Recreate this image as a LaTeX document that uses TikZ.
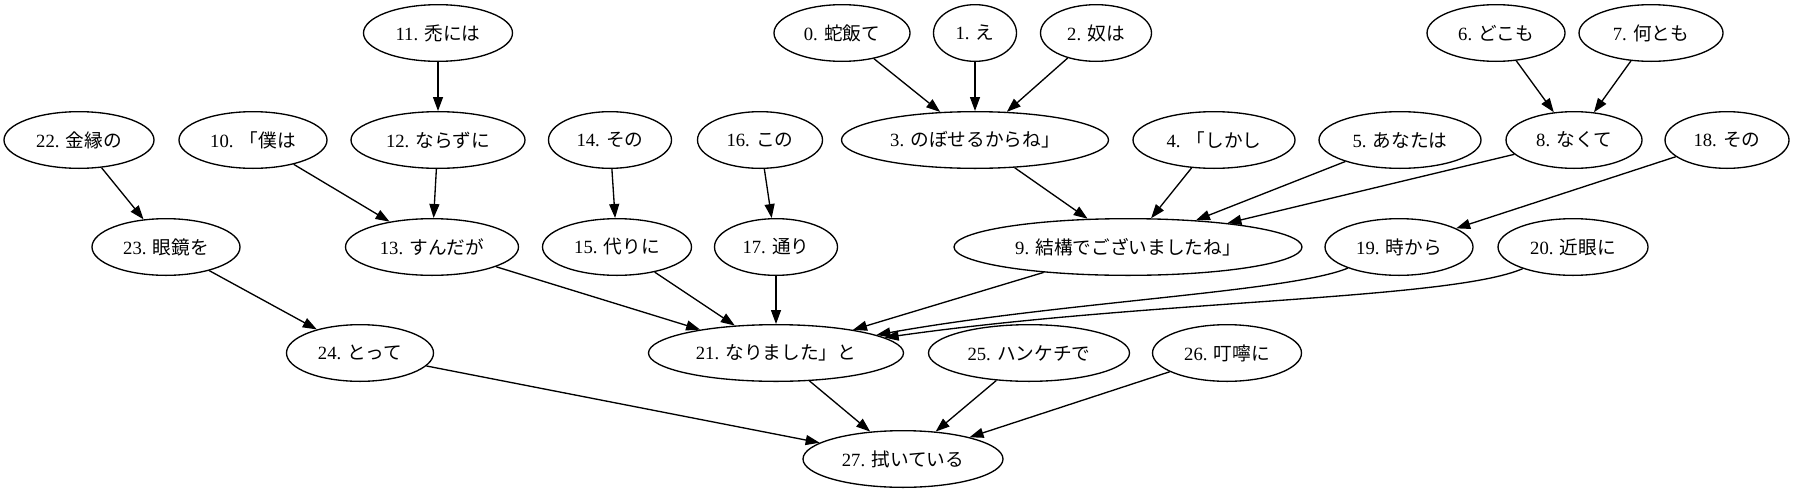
\documentclass[tikz,border=0pt]{standalone}
\usepackage{fontspec}
\setmainfont{Liberation Serif}
\newfontfamily\cjk{Noto Sans CJK JP}
\usetikzlibrary{arrows.meta,shapes.geometric}
\tikzset{
  nd/.style={ellipse, draw, line width=1pt, inner sep=0pt, minimum height=42.5pt,
    font=\fontsize{14pt}{16pt}\selectfont},
  nw/.style={minimum width=#1*0.75pt},
  ed/.style={line width=1pt, -{Triangle[length=10.5pt,width=7.5pt]}}
}
\begin{document}
\begin{tikzpicture}[x=0.75pt,y=-0.75pt]
\useasboundingbox (0,0) rectangle (1794,493);
% row 1
\node[nd,nw=149] (n11) at (438,33) {11. {\cjk 禿には}};
\node[nd,nw=136] (n0) at (842,33) {0. {\cjk 蛇飯て}};
\node[nd,nw=83] (n1) at (975,33) {1. {\cjk え}};
\node[nd,nw=111] (n2) at (1096,33) {2. {\cjk 奴は}};
\node[nd,nw=138] (n6) at (1496,33) {6. {\cjk どこも}};
\node[nd,nw=144] (n7) at (1651,33) {7. {\cjk 何とも}};
% row 2
\node[nd,nw=150] (n22) at (79,140) {22. {\cjk 金縁の}};
\node[nd,nw=148] (n10) at (253,140) {10. {\cjk 「僕は}};
\node[nd,nw=174] (n12) at (438,140) {12. {\cjk ならずに}};
\node[nd,nw=123] (n14) at (610,140) {14. {\cjk その}};
\node[nd,nw=125] (n16) at (760,140) {16. {\cjk この}};
\node[nd,nw=267] (n3) at (975,140) {3. {\cjk のぼせるからね」}};
\node[nd,nw=162] (n4) at (1214,140) {4. {\cjk 「しかし}};
\node[nd,nw=162] (n5) at (1400,140) {5. {\cjk あなたは}};
\node[nd,nw=136] (n8) at (1574,140) {8. {\cjk なくて}};
\node[nd,nw=124] (n18) at (1727,140) {18. {\cjk その}};
% row 3
\node[nd,nw=148] (n23) at (166,247) {23. {\cjk 眼鏡を}};
\node[nd,nw=173] (n13) at (432,247) {13. {\cjk すんだが}};
\node[nd,nw=149] (n15) at (617,247) {15. {\cjk 代りに}};
\node[nd,nw=123] (n17) at (776,247) {17. {\cjk 通り}};
\node[nd,nw=348] (n9) at (1128,247) {9. {\cjk 結構でございましたね」}};
\node[nd,nw=148] (n19) at (1399,247) {19. {\cjk 時から}};
\node[nd,nw=150] (n20) at (1573,247) {20. {\cjk 近眼に}};
% row 4
\node[nd,nw=147] (n24) at (360,353) {24. {\cjk とって}};
\node[nd,nw=255] (n21) at (776,353) {21. {\cjk なりました」と}};
\node[nd,nw=201] (n25) at (1029,353) {25. {\cjk ハンケチで}};
\node[nd,nw=149] (n26) at (1227,353) {26. {\cjk 叮嚀に}};
% row 5
\node[nd,nw=200] (n27) at (903,459) {27. {\cjk 拭いている}};
% edges
\draw[ed] (n0) -- (n3);
\draw[ed] (n1) -- (n3);
\draw[ed] (n2) -- (n3);
\draw[ed] (n3) -- (n9);
\draw[ed] (n4) -- (n9);
\draw[ed] (n5) -- (n9);
\draw[ed] (n8) -- (n9);
\draw[ed] (n6) -- (n8);
\draw[ed] (n7) -- (n8);
\draw[ed] (n11) -- (n12);
\draw[ed] (n12) -- (n13);
\draw[ed] (n10) -- (n13);
\draw[ed] (n22) -- (n23);
\draw[ed] (n23) -- (n24);
\draw[ed] (n14) -- (n15);
\draw[ed] (n16) -- (n17);
\draw[ed] (n13) -- (n21);
\draw[ed] (n15) -- (n21);
\draw[ed] (n17) -- (n21);
\draw[ed] (n9) -- (n21);
\draw[ed] (n18) -- (n19);
\draw[ed] (n19) .. controls (1290,292) and (1060,302) .. (n21);
\draw[ed] (n20) .. controls (1450,300) and (1150,300) .. (n21);
\draw[ed] (n24) -- (n27);
\draw[ed] (n21) -- (n27);
\draw[ed] (n25) -- (n27);
\draw[ed] (n26) -- (n27);
\end{tikzpicture}
\end{document}
